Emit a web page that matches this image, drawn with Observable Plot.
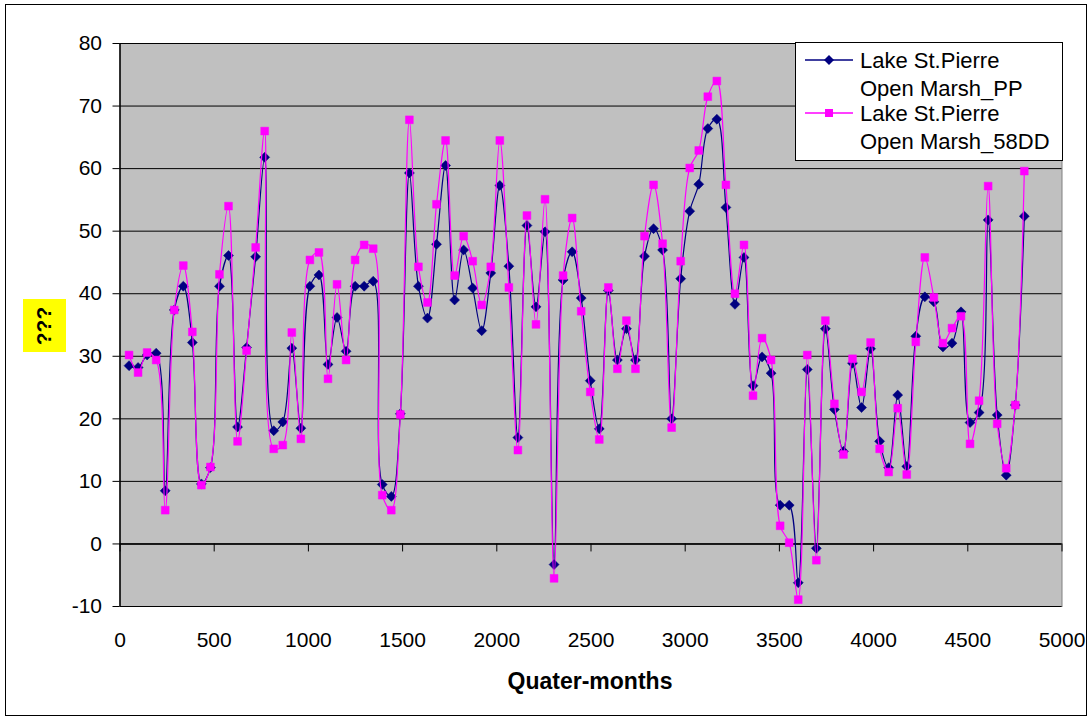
<!DOCTYPE html>
<html>
<head>
<meta charset="utf-8">
<script src="https://cdn.jsdelivr.net/npm/d3@7"></script>
<script src="https://cdn.jsdelivr.net/npm/@observablehq/plot@0.6"></script>
<style>
  html, body { margin: 0; padding: 0; background: #fff; }
  #wrap { position: relative; width: 1092px; height: 721px; overflow: hidden; font-family: Arial, "Liberation Sans", sans-serif; }
  #border { position: absolute; left: 5px; top: 4px; width: 1082px; height: 712px; border: 1px solid #000; box-sizing: border-box; pointer-events: none; }
  #ylab { position: absolute; left: 23px; top: 299px; width: 43px; height: 53px; background: #ffff00; display: flex; align-items: center; justify-content: center; }
  #ylab span { display: inline-block; transform: rotate(-90deg); font-weight: bold; font-size: 21px; color: #000; white-space: nowrap; }
  #xlab { position: absolute; left: 0; width: 1180px; top: 668px; text-align: center; font-weight: bold; font-size: 23px; color: #000; }
  #legend { position: absolute; left: 795px; top: 42px; }
</style>
</head>
<body>
<div id="wrap">
  <div id="chart"></div>
  <div id="border"></div>
  <div id="ylab"><span>???</span></div>
  <div id="xlab">Quater-months</div>
  <svg id="legend" width="268" height="119"></svg>
</div>
<script>
// ---- data ----
const quarterMonths = [48,96,144,192,240,288,336,384,432,480,528,576,624,672,720,768,816,864,912,960,
  1008,1056,1104,1152,1200,1248,1296,1344,1392,1440,1488,1536,1584,1632,1680,1728,1776,1824,1872,1920,
  1968,2016,2064,2112,2160,2208,2256,2304,2352,2400,2448,2496,2544,2592,2640,2688,2736,2784,2832,2880,
  2928,2976,3024,3072,3120,3168,3216,3264,3312,3360,3408,3456,3504,3552,3600,3648,3696,3744,3792,3840,
  3888,3936,3984,4032,4080,4128,4176,4224,4272,4320,4368,4416,4464,4512,4560,4608,4656,4704,4752,4800];

const seriesNames = ["Lake St.Pierre Open Marsh_PP", "Lake St.Pierre Open Marsh_58DD"];

const openMarshPP = [
  28.5, 28.2, 30.2, 30.5, 8.5, 37.4, 41.2, 32.2, 9.6, 12.2,
  41.2, 46.1, 18.7, 31.4, 45.9, 61.8, 18.1, 19.5, 31.3, 18.5,
  41.2, 43.0, 28.7, 36.2, 30.8, 41.2, 41.2, 42.0, 9.5, 7.6,
  20.8, 59.3, 41.2, 36.1, 47.9, 60.5, 39.0, 47.0, 40.9, 34.1,
  43.3, 57.3, 44.4, 17.0, 50.9, 37.9, 49.9, -3.3, 42.2, 46.7,
  39.3, 26.1, 18.4, 40.5, 29.4, 34.4, 29.4, 46.0, 50.4, 47.0,
  20.0, 42.4, 53.2, 57.5, 66.4, 67.9, 53.8, 38.3, 45.8, 25.3,
  29.9, 27.3, 6.2, 6.2, -6.2, 27.9, -0.7, 34.4, 21.5, 14.8,
  28.9, 21.8, 31.2, 16.4, 12.2, 23.8, 12.4, 33.2, 39.5, 38.7,
  31.5, 32.1, 37.1, 19.4, 21.0, 51.8, 20.6, 11.0, 22.2, 52.4];

const openMarsh58DD = [
  30.2, 27.4, 30.6, 29.4, 5.4, 37.4, 44.5, 33.9, 9.4, 12.3,
  43.1, 54.0, 16.4, 30.9, 47.4, 66.0, 15.2, 15.8, 33.8, 16.8,
  45.4, 46.6, 26.4, 41.5, 29.4, 45.4, 47.8, 47.2, 7.8, 5.4,
  20.7, 67.8, 44.3, 38.6, 54.3, 64.5, 42.9, 49.2, 45.2, 38.2,
  44.3, 64.5, 41.0, 15.0, 52.5, 35.1, 55.1, -5.5, 42.9, 52.1,
  37.2, 24.3, 16.7, 41.0, 28.0, 35.7, 28.0, 49.2, 57.4, 48.0,
  18.6, 45.2, 60.1, 62.9, 71.5, 74.0, 57.4, 40.0, 47.8, 23.7,
  32.9, 29.4, 2.9, 0.2, -8.9, 30.2, -2.6, 35.7, 22.4, 14.3,
  29.6, 24.3, 32.2, 15.2, 11.5, 21.7, 11.1, 32.3, 45.8, 39.4,
  32.1, 34.5, 36.4, 16.0, 22.9, 57.2, 19.2, 12.1, 22.2, 59.6];

const xTicks = [0, 500, 1000, 1500, 2000, 2500, 3000, 3500, 4000, 4500, 5000];
const yTicks = [-10, 0, 10, 20, 30, 40, 50, 60, 70, 80];

// ---- build ----
const rows = quarterMonths.map((q, i) => ({q, pp: openMarshPP[i], dd: openMarsh58DD[i]}));

const W = 1092, H = 721;
const mL = 119.5, mR = 30.5, mT = 43, mB = 115;
const yMin = -10, yMax = 80;
const plotH = H - mT - mB;
const zeroOffset = plotH * (0 - yMin) / (yMax - yMin);

const navy = "#000080", magenta = "#ff00ff";

const chart = Plot.plot({
  width: W, height: H,
  marginLeft: mL, marginRight: mR, marginTop: mT, marginBottom: mB,
  style: {fontFamily: "Arial, 'Liberation Sans', sans-serif", fontSize: "21px", color: "#000", background: "transparent"},
  x: {domain: [0, 5000], label: null},
  y: {domain: [yMin, yMax], label: null},
  marks: [
    Plot.frame({fill: "#c0c0c0", stroke: "#808080"}),
    Plot.gridY({ticks: yTicks, stroke: "#000", strokeOpacity: 1, strokeWidth: 1}),
    Plot.ruleY([0], {stroke: "#000", strokeWidth: 1.5}),
    Plot.ruleX([0], {stroke: "#000", strokeWidth: 1.5}),
    Plot.axisY({ticks: yTicks, tickSize: 7, tickPadding: 11, stroke: "#000", tickFormat: d => String(d)}),
    Plot.axisX({ticks: xTicks, tickSize: 8, stroke: "#000", tickFormat: () => "", dy: -zeroOffset}),
    Plot.axisX({ticks: xTicks, tickSize: 0, tickPadding: 26, tickFormat: d => String(d)}),
    Plot.line(rows, {x: "q", y: "pp", stroke: navy, strokeWidth: 1.2, curve: "catmull-rom"}),
    Plot.dot(rows, {x: "q", y: "pp", symbol: "diamond2", r: 4.5, fill: navy, stroke: navy, strokeWidth: 0.5}),
    Plot.line(rows, {x: "q", y: "dd", stroke: magenta, strokeWidth: 1.2, curve: "catmull-rom"}),
    Plot.dot(rows, {x: "q", y: "dd", symbol: "square", r: 4.4, fill: magenta, stroke: magenta, strokeWidth: 0.5})
  ]
});
document.getElementById("chart").appendChild(chart);

// ---- legend ----
const leg = d3.select("#legend");
leg.append("rect").attr("x", 0.5).attr("y", 0.5).attr("width", 267).attr("height", 118)
  .attr("fill", "#fff").attr("stroke", "#000").attr("stroke-width", 1);
const entries = [
  {name: seriesNames[0], color: navy, symbol: "diamond"},
  {name: seriesNames[1], color: magenta, symbol: "square"}
];
entries.forEach((e, k) => {
  const cy = 18 + k * 53;
  leg.append("line").attr("x1", 10).attr("x2", 58).attr("y1", cy).attr("y2", cy)
    .attr("stroke", e.color).attr("stroke-width", 1.3);
  if (e.symbol === "diamond") {
    leg.append("path").attr("d", `M34,${cy-5}L39,${cy}L34,${cy+5}L29,${cy}Z`).attr("fill", e.color);
  } else {
    leg.append("rect").attr("x", 30).attr("y", cy - 4).attr("width", 8).attr("height", 8).attr("fill", e.color);
  }
  const parts = e.name.split(" Open ");
  const t = leg.append("text").attr("x", 65).attr("y", cy).attr("font-size", 22)
    .attr("font-family", "Arial, 'Liberation Sans', sans-serif").attr("fill", "#000");
  t.append("tspan").attr("x", 65).attr("dy", "0.36em").text(parts[0]);
  t.append("tspan").attr("x", 65).attr("dy", 28).text("Open " + parts[1]);
});
</script>
</body>
</html>
